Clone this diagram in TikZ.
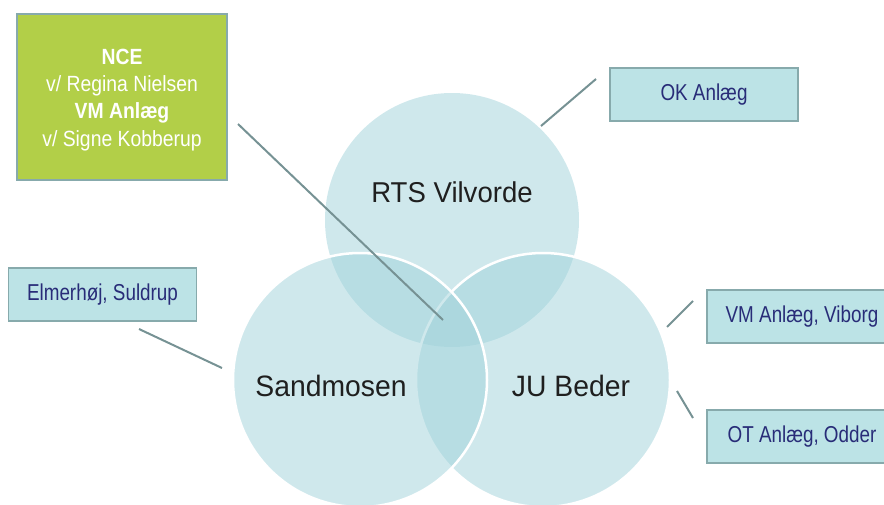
\documentclass[tikz,border=0pt]{standalone}
\usepackage{fontspec}
\setmainfont{Liberation Sans}
\newfontfamily\boxfont[FakeStretch=0.82]{Liberation Sans}
\newfontfamily\ncefont[FakeStretch=0.88]{Liberation Sans}
\newfontfamily\setfont[FakeStretch=0.96]{Liberation Sans}
\usepackage{tikz}
\usetikzlibrary{shapes,positioning}
\definecolor{setcyan}{RGB}{160,210,218}
\definecolor{boxcyan}{RGB}{188,227,230}
\definecolor{boxedge}{RGB}{135,170,172}
\definecolor{ncegreen}{RGB}{178,207,72}
\definecolor{linegray}{RGB}{118,146,148}
\definecolor{navytext}{RGB}{40,44,120}
\tikzstyle{setcircle} = [circle, minimum size=254pt, inner sep=0pt, fill=setcyan, fill opacity=0.5]
\tikzstyle{setlabel} = [font=\setfont\fontsize{29.5}{34}\selectfont, text=black!88]
\tikzstyle{sitebox} = [rectangle, minimum width=188pt, minimum height=53pt, draw=boxedge, line width=1.8pt, fill=boxcyan, text=navytext, font=\boxfont\fontsize{23}{27}\selectfont]
\tikzstyle{ncebox} = [rectangle, minimum width=210pt, minimum height=166pt, draw=boxedge, line width=1.8pt, fill=ncegreen, text=white, align=center, font=\ncefont\fontsize{22}{27.4}\selectfont]
\tikzstyle{pointer} = [linegray, line width=2pt]

\begin{document}
\begin{tikzpicture}[x=1pt, y=-1pt]

\useasboundingbox (0,0) rectangle (884,504);
\clip (0,0) rectangle (884,504);

\node (rts) [setcircle] at (452,220) {};
\node (ju) [setcircle, draw=white, line width=2.5pt, draw opacity=1] at (543,380) {};
\node (sand) [setcircle, draw=white, line width=2.5pt, draw opacity=1] at (360,380) {};

\node (rtsLabel) [setlabel, font=\setfont\fontsize{28.7}{34}\selectfont] at (452,192) {RTS Vilvorde};
\node (sandLabel) [setlabel] at (331,386) {Sandmosen};
\node (juLabel) [setlabel] at (571,386) {JU Beder};

\node (nce) [ncebox] at (122,97) {\rule{0pt}{21pt}\textbf{NCE}\\v/ Regina Nielsen\\\textbf{VM Anlæg}\\v/ Signe Kobberup};
\node (ok) [sitebox] at (704,94.5) {OK Anlæg};
\node (elm) [sitebox] at (102.5,294.5) {Elmerhøj, Suldrup};
\node (vm) [sitebox, minimum width=190pt] at (802,316.5) {VM Anlæg, Viborg};
\node (ot) [sitebox, minimum width=190pt] at (802,436.5) {OT Anlæg, Odder};

\coordinate (nceA) at (238,124);
\coordinate (nceB) at (443,320);
\coordinate (okA) at (596,79);
\coordinate (okB) at (541,126);
\coordinate (elmA) at (139,329);
\coordinate (elmB) at (222,368);
\coordinate (vmA) at (693,301);
\coordinate (vmB) at (667,327);
\coordinate (otA) at (677,391);
\coordinate (otB) at (693,418);

\draw [pointer] (nceA) -- (nceB);
\draw [pointer] (okA) -- (okB);
\draw [pointer] (elmA) -- (elmB);
\draw [pointer] (vmA) -- (vmB);
\draw [pointer] (otA) -- (otB);

\end{tikzpicture}
\end{document}
